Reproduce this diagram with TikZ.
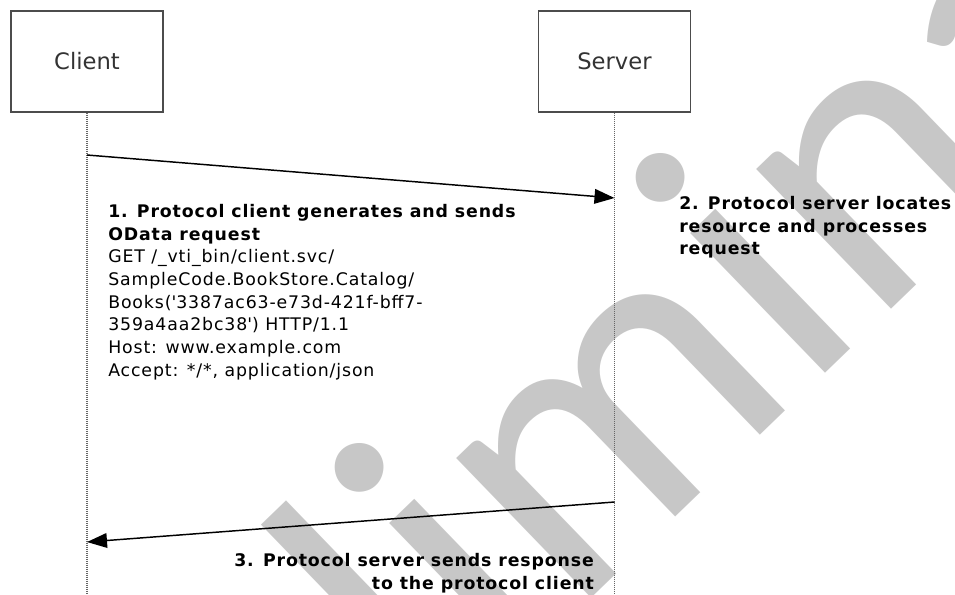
\documentclass[tikz,border=0pt]{standalone}
\usepackage{fontspec}
\setmainfont{DejaVu Sans}[LetterSpace=5]
\newfontfamily\boxfont{DejaVu Sans}
\newfontfamily\markfont{Carlito}
\usetikzlibrary{arrows.meta}

\begin{document}
\begin{tikzpicture}[x=0.75pt, y=-0.75pt,
  actor/.style={draw=black!70, line width=0.8pt, minimum width=114pt, minimum height=75.75pt,
    text=black!80, font=\boxfont\fontsize{17pt}{20pt}\selectfont},
  lifeline/.style={draw=black!60, line width=0.8pt, dash pattern=on 0.75pt off 0.75pt},
  message/.style={line width=1.1pt, -{Triangle[length=15pt, width=11pt]}},
  note/.style={inner sep=0pt, font=\fontsize{13pt}{17pt}\selectfont},
  watermark/.style={inner sep=0pt, text=black!22, font=\markfont\fontsize{305pt}{305pt}\selectfont}]
  \useasboundingbox (0,0) rectangle (955,594);
  \clip (0,0) rectangle (955,594);
  \node[watermark, anchor=base west, rotate=44] (mark) at (41,1130) {Preliminary};

  \node[actor] (client) at (87,61.5) {Client};
  \node[actor] (server) at (614.5,61.5) {Server};
  \coordinate (client end) at (client.south |- 0,594);
  \coordinate (server end) at (server.south |- 0,594);
  \draw[lifeline] (client.south) -- (client end);
  \draw[lifeline] (server.south) -- (server end);

  \coordinate (req from) at (client.south |- 0,155);
  \coordinate (req to) at (server.south |- 0,198);
  \coordinate (resp from) at (server.south |- 0,502);
  \coordinate (resp to) at (client.south |- 0,542);
  \draw[message] (req from) -- (req to);
  \draw[message] (resp from) -- (resp to);

  \node[note, anchor=north west, align=left] (request) at (108,204)
    {\textbf{1. Protocol client generates and sends}\\
     \textbf{OData request}\\
     GET /\_vti\_bin/client.svc/\\
     SampleCode.BookStore.Catalog/\\
     Books(\textquotesingle 3387ac63-e73d-421f-bff7-\\
     359a4aa2bc38\textquotesingle) HTTP/1.1\\
     Host: www.example.com\\
     Accept: */*, application/json};
  \node[note, anchor=north west, align=left] (locate) at (679,196)
    {\textbf{2. Protocol server locates}\\
     \textbf{resource and processes}\\
     \textbf{request}};
  \node[note, anchor=north east, align=right] (response) at (595,553)
    {\textbf{3. Protocol server sends response}\\
     \textbf{to the protocol client}};
\end{tikzpicture}
\end{document}
